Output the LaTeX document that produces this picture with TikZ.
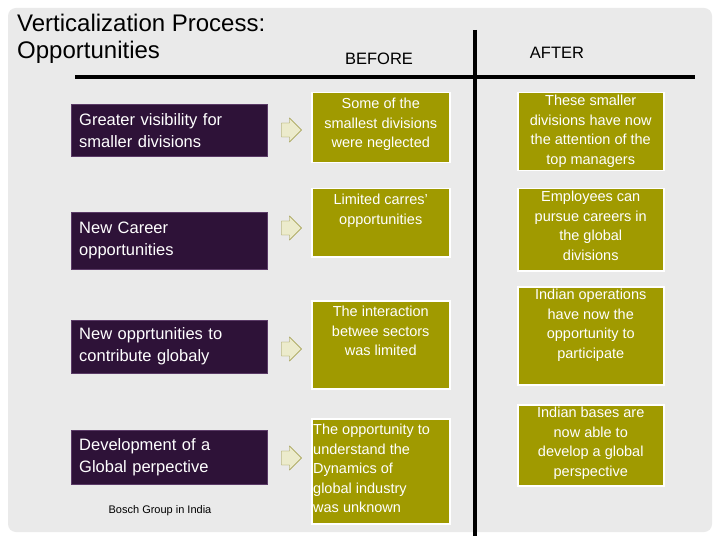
\documentclass[tikz,border=0pt]{standalone}
\usepackage{fontspec}
\setmainfont{Liberation Sans}
\usetikzlibrary{shapes.arrows}
\definecolor{plum}{HTML}{2E1238}
\definecolor{plumline}{HTML}{5A3A66}
\definecolor{olive}{HTML}{A09A00}
\definecolor{slide}{HTML}{EAEAEA}
\begin{document}
\begin{tikzpicture}[x=1pt,y=-1pt]
  \tikzstyle{topic}=[draw=plumline, fill=plum, text=white, anchor=north west, minimum width=196pt, text width=180pt, align=left, inner xsep=8pt, font=\fontsize{16.5}{22}\selectfont]
  \tikzstyle{cell}=[draw=white, line width=1.5pt, fill=olive, anchor=north west]
  \tikzstyle{celltext}=[text=white, anchor=north, align=center, font=\fontsize{14.5}{19.5}\selectfont, inner sep=2pt]
  \tikzstyle{go}=[single arrow, draw=olive!60!gray, fill=olive!20!white, minimum height=20pt, minimum width=24pt, single arrow head extend=3pt, inner sep=4pt]

  \useasboundingbox (0,0) rectangle (720,540);
  \fill[white] (0,0) rectangle (720,540);
  \fill[slide, rounded corners=8pt] (8,8) rectangle (712,532);

  % title and headings
  \node[anchor=north west, align=left, font=\fontsize{24}{27}\selectfont, inner sep=0pt] (title) at (17,14) {Verticalization Process:\\Opportunities};
  \node[font=\fontsize{16.5}{19}\selectfont] (before) at (379,59) {BEFORE};
  \node[font=\fontsize{16.5}{19}\selectfont] (after) at (557,53) {AFTER};
  \coordinate (hl) at (75,77);
  \coordinate (hr) at (695,77);
  \coordinate (vt) at (475,30);
  \coordinate (vb) at (475,536);
  \draw[line width=4pt] (hl) -- (hr);
  \draw[line width=4pt] (vt) -- (vb);

  % opportunities
  \node[topic, minimum height=52pt] (t1) at (71,104) {Greater visibility for\\smaller divisions};
  \node[topic, minimum height=57pt] (t2) at (71,212) {New Career\\opportunities};
  \node[topic, minimum height=53pt] (t3) at (71,320) {New opprtunities to\\contribute globaly};
  \node[topic, minimum height=54pt] (t4) at (71,430) {Development of a\\Global perpective};
  \node[font=\fontsize{11}{13}\selectfont] (src) at (160,511) {Bosch Group in India};

  \node[go] (a1) at (288,130) {};
  \node[go] (a2) at (288,228) {};
  \node[go] (a3) at (288,349) {};
  \node[go] (a4) at (288,458) {};

  % before
  \node[cell, minimum width=138pt, minimum height=70pt] (b1) at (311,92) {};
  \node[cell, minimum width=138pt, minimum height=68pt] (b2) at (311,188) {};
  \node[cell, minimum width=138pt, minimum height=88pt] (b3) at (311,300) {};
  \node[cell, minimum width=138pt, minimum height=105pt] (b4) at (311,418) {};
  \node[celltext] at ([yshift=-4pt]b1.north) {Some of the\\smallest divisions\\were neglected};
  \node[celltext] at ([yshift=-4pt]b2.north) {Limited carres'\\opportunities};
  \node[celltext] at ([yshift=-4pt]b3.north) {The interaction\\betwee sectors\\was limited};
  \node[celltext, align=left, anchor=north west] at ([yshift=-4pt]b4.north west) {The opportunity to\\understand the\\Dynamics of\\global industry\\was unknown};

  % after
  \node[cell, minimum width=146pt, minimum height=78pt] (c1) at (517,92) {};
  \node[cell, minimum width=146pt, minimum height=82pt] (c2) at (517,188) {};
  \node[cell, minimum width=146pt, minimum height=98pt] (c3) at (517,286) {};
  \node[cell, minimum width=146pt, minimum height=81pt] (c4) at (517,404) {};
  \node[celltext] at ([yshift=-1pt]c1.north) {These smaller\\divisions have now\\the attention of the\\top managers};
  \node[celltext] at ([yshift=-1pt]c2.north) {Employees can\\pursue careers in\\the global\\divisions};
  \node[celltext] at ([yshift=-1pt]c3.north) {Indian operations\\have now the\\opportunity to\\participate};
  \node[celltext] at ([yshift=-1pt]c4.north) {Indian bases are\\now able to\\develop a global\\perspective};
\end{tikzpicture}
\end{document}
